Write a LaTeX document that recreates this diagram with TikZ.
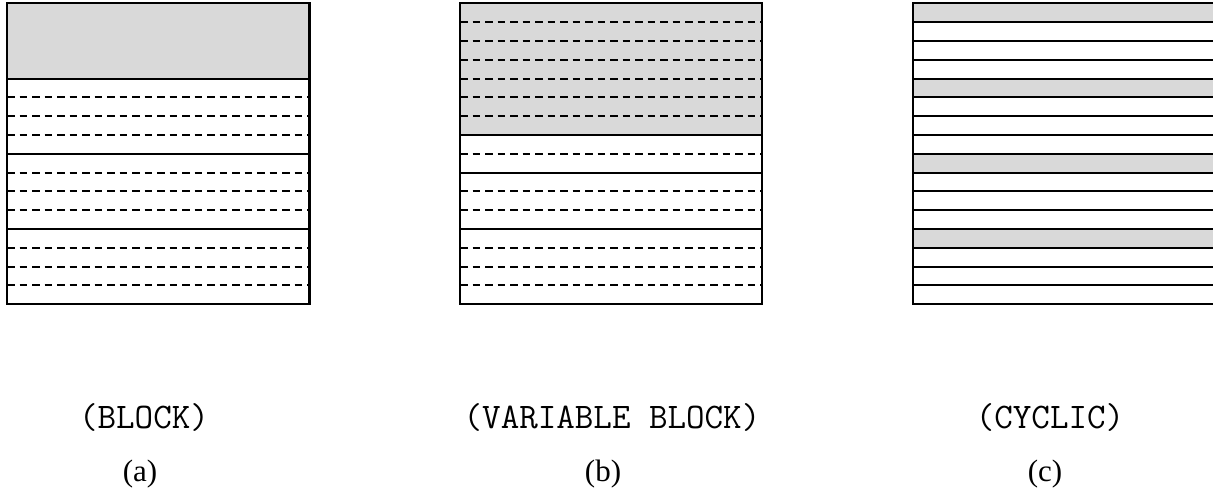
\documentclass[tikz,border=0pt]{standalone}
\usepackage{fontspec}
\setmainfont{Liberation Serif}
\definecolor{shadegray}{RGB}{217,217,217}
\begin{document}
\begin{tikzpicture}[x=1pt,y=-1pt,
  frame/.style={draw=black,line width=2.2pt},
  sep/.style={draw=black,line width=2pt},
  dsh/.style={draw=black,line width=2pt,dash pattern=on 7.5pt off 5pt},
  shadefill/.style={fill=shadegray},
  lab/.style={font=\ttfamily\fontsize{36}{40}\selectfont,anchor=base,inner sep=0pt},
  sub/.style={font=\rmfamily\fontsize{31}{35}\selectfont,anchor=base,inner sep=0pt}]
\useasboundingbox (0,0) rectangle (1213,491);
\def\rh{18.8}
\def\tp{3.3}
% ---- panel (a) ----
\fill[shadefill] (7,\tp) rectangle (309.5,{\tp+4*\rh});
\foreach \i in {5,6,7,9,10,11,13,14,15}
  \draw[dsh] (7,{\tp+\i*\rh}) -- (308,{\tp+\i*\rh});
\foreach \i in {4,8,12}
  \draw[sep] (7,{\tp+\i*\rh}) -- (309.5,{\tp+\i*\rh});
\draw[frame] (7,\tp) rectangle (309.5,{\tp+16*\rh});
% ---- panel (b) ----
\fill[shadefill] (460,\tp) rectangle (762,{\tp+7*\rh});
\foreach \i in {1,2,3,4,5,6,8,10,11,13,14,15}
  \draw[dsh] (460,{\tp+\i*\rh}) -- (760.5,{\tp+\i*\rh});
\foreach \i in {7,9,12}
  \draw[sep] (460,{\tp+\i*\rh}) -- (762,{\tp+\i*\rh});
\draw[frame] (460,\tp) rectangle (762,{\tp+16*\rh});
% ---- panel (c) ----
\foreach \i in {0,4,8,12}
  \fill[shadefill] (912.7,{\tp+\i*\rh}) rectangle (1216,{\tp+(\i+1)*\rh});
\foreach \i in {1,...,15}
  \draw[sep] (912.7,{\tp+\i*\rh}) -- (1216,{\tp+\i*\rh});
\draw[frame] (912.7,\tp) rectangle (1216,{\tp+16*\rh});
% ---- labels ----
\node[lab] (nameA) at (144,428) {(BLOCK)};
\node[lab] (nameB) at (612,428) {(VARIABLE BLOCK)};
\node[lab] (nameC) at (1050,428) {(CYCLIC)};
\node[sub] (subA) at (140,481) {(a)};
\node[sub] (subB) at (603,481) {(b)};
\node[sub] (subC) at (1045,481) {(c)};
\end{tikzpicture}
\end{document}
